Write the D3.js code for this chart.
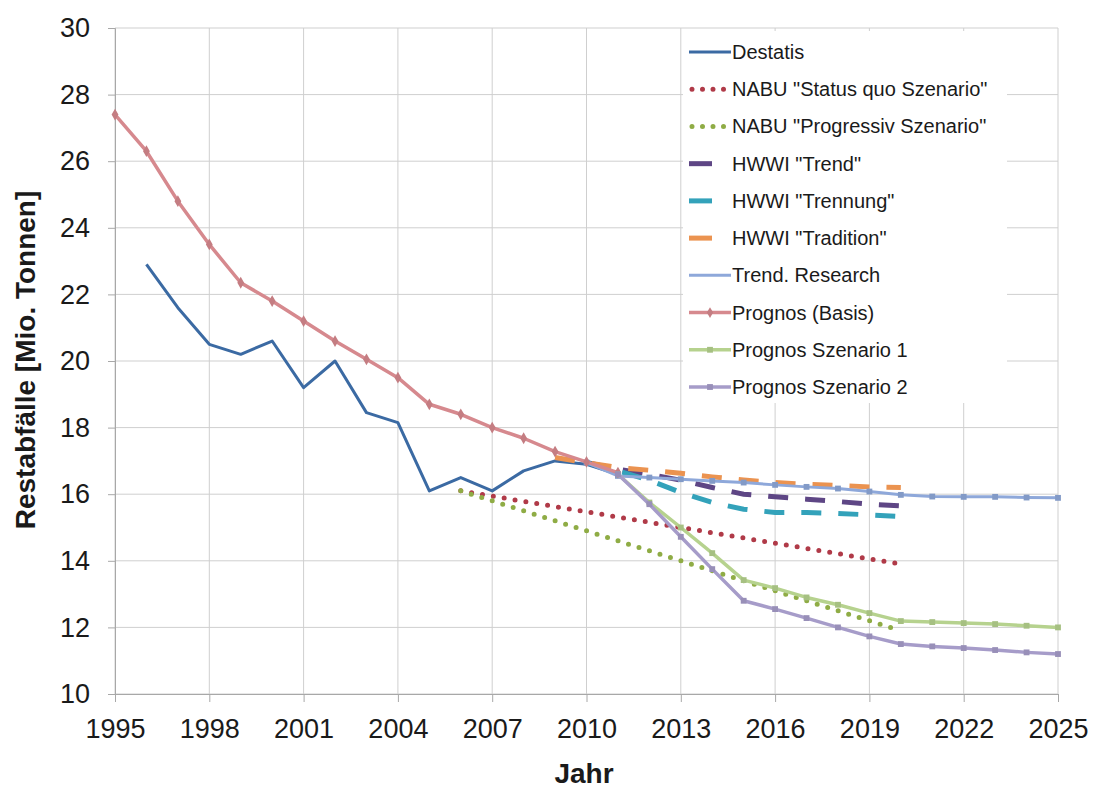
<!DOCTYPE html>
<html>
<head>
<meta charset="utf-8">
<script src="https://cdn.jsdelivr.net/npm/d3@7"></script>
<style>
  body { margin: 0; background: #fff; }
  text { font-family: "Liberation Sans", Arial, sans-serif; fill: #1a1a1a; }
</style>
</head>
<body>
<svg id="chart" width="1094" height="789"></svg>
<script>
// ---------- data ----------
const yearTicks = [1995, 1998, 2001, 2004, 2007, 2010, 2013, 2016, 2019, 2022, 2025];
const valueTicks = [10, 12, 14, 16, 18, 20, 22, 24, 26, 28, 30];

const destatisYears = [1996, 1997, 1998, 1999, 2000, 2001, 2002, 2003, 2004, 2005, 2006, 2007, 2008, 2009, 2010, 2011];
const destatisValues = [22.9, 21.6, 20.5, 20.2, 20.6, 19.2, 20.0, 18.45, 18.15, 16.1, 16.5, 16.1, 16.7, 17.0, 16.9, 16.6];

const nabuStatusYears = [2006, 2020];
const nabuStatusValues = [16.1, 13.9];

const nabuProgYears = [2006, 2020];
const nabuProgValues = [16.1, 11.9];

const hwwiYears = [2010, 2011, 2012, 2013, 2014, 2015, 2016, 2017, 2018, 2019, 2020];
const hwwiTrendValues = [16.95, 16.75, 16.6, 16.42, 16.2, 16.0, 15.92, 15.85, 15.78, 15.7, 15.65];
const hwwiTrennungValues = [16.95, 16.7, 16.42, 16.05, 15.75, 15.55, 15.45, 15.45, 15.42, 15.38, 15.33];

const hwwiTraditionYears = [2009, 2010, 2011, 2012, 2013, 2014, 2015, 2016, 2017, 2018, 2019, 2020];
const hwwiTraditionValues = [17.1, 16.95, 16.8, 16.72, 16.63, 16.52, 16.43, 16.35, 16.3, 16.26, 16.22, 16.2];

const trendResearchYears = [2010, 2011, 2012, 2013, 2014, 2015, 2016, 2017, 2018, 2019, 2020, 2021, 2022, 2023, 2024, 2025];
const trendResearchValues = [16.95, 16.55, 16.5, 16.45, 16.4, 16.35, 16.28, 16.22, 16.17, 16.08, 15.98, 15.93, 15.92, 15.92, 15.9, 15.89];

const prognosBasisYears = [1995, 1996, 1997, 1998, 1999, 2000, 2001, 2002, 2003, 2004, 2005, 2006, 2007, 2008, 2009, 2010, 2011];
const prognosBasisValues = [27.4, 26.3, 24.8, 23.5, 22.35, 21.8, 21.2, 20.6, 20.05, 19.5, 18.7, 18.4, 18.0, 17.68, 17.28, 16.97, 16.65];

const prognosSzYears = [2011, 2012, 2013, 2014, 2015, 2016, 2017, 2018, 2019, 2020, 2021, 2022, 2023, 2024, 2025];
const prognosSz1Values = [16.6, 15.75, 15.0, 14.23, 13.42, 13.18, 12.9, 12.68, 12.43, 12.19, 12.16, 12.13, 12.1, 12.05, 12.0];
const prognosSz2Values = [16.6, 15.7, 14.72, 13.75, 12.8, 12.55, 12.28, 12.0, 11.73, 11.5, 11.43, 11.38, 11.32, 11.25, 11.2];

const seriesNames = [
  'Destatis',
  'NABU "Status quo Szenario"',
  'NABU "Progressiv Szenario"',
  'HWWI "Trend"',
  'HWWI "Trennung"',
  'HWWI "Tradition"',
  'Trend. Research',
  'Prognos (Basis)',
  'Prognos Szenario 1',
  'Prognos Szenario 2'
];

// ---------- styles ----------
const zip = (xs, ys) => xs.map((v, i) => ({ x: v, y: ys[i] }));
const series = [
  { name: seriesNames[0], data: zip(destatisYears, destatisValues), color: '#3b6aa3', kind: 'solid', width: 3 },
  { name: seriesNames[1], data: zip(nabuStatusYears, nabuStatusValues), color: '#b03a48', kind: 'dot' },
  { name: seriesNames[2], data: zip(nabuProgYears, nabuProgValues), color: '#8fac45', kind: 'dot' },
  { name: seriesNames[3], data: zip(hwwiYears, hwwiTrendValues), color: '#5e4685', kind: 'dash' },
  { name: seriesNames[4], data: zip(hwwiYears, hwwiTrennungValues), color: '#33a2ba', kind: 'dash' },
  { name: seriesNames[5], data: zip(hwwiTraditionYears, hwwiTraditionValues), color: '#eb9350', kind: 'dash' },
  { name: seriesNames[6], data: zip(trendResearchYears, trendResearchValues), color: '#8ea8da', kind: 'solid', width: 3, marker: 'sq', legendMarker: false },
  { name: seriesNames[7], data: zip(prognosBasisYears, prognosBasisValues), color: '#d6898e', kind: 'solid', width: 3.5, marker: 'dia' },
  { name: seriesNames[8], data: zip(prognosSzYears, prognosSz1Values), color: '#b6d28e', kind: 'solid', width: 3.5, marker: 'sq' },
  { name: seriesNames[9], data: zip(prognosSzYears, prognosSz2Values), color: '#a69cc9', kind: 'solid', width: 3.5, marker: 'sq' }
];

// ---------- layout ----------
const svg = d3.select('#chart');
const mLeft = 115, mRight = 1058, mTop = 28, mBottom = 694;
const x = d3.scaleLinear().domain([1995, 2025]).range([mLeft, mRight]);
const y = d3.scaleLinear().domain([10, 30]).range([mBottom, mTop]);

// grid
const grid = svg.append('g');
grid.selectAll('line.h').data(valueTicks).join('line').attr('class', 'h')
  .attr('x1', mLeft).attr('x2', mRight)
  .attr('y1', d => y(d)).attr('y2', d => y(d))
  .attr('stroke', '#cfcfcf').attr('stroke-width', 1);
grid.selectAll('line.v').data(yearTicks).join('line').attr('class', 'v')
  .attr('x1', d => x(d)).attr('x2', d => x(d))
  .attr('y1', mTop).attr('y2', mBottom)
  .attr('stroke', '#cfcfcf').attr('stroke-width', 1);

// axes
const yAxis = svg.append('g').attr('transform', `translate(${mLeft},0)`)
  .call(d3.axisLeft(y).tickValues(valueTicks).tickSize(7).tickPadding(18).tickFormat(d3.format('d')));
const xAxis = svg.append('g').attr('transform', `translate(0,${mBottom})`)
  .call(d3.axisBottom(x).tickValues(yearTicks).tickSize(8).tickPadding(17).tickFormat(d3.format('d')));
[yAxis, xAxis].forEach(a => {
  a.select('.domain').attr('stroke', '#a8a8a8');
  a.selectAll('.tick line').attr('stroke', '#a8a8a8');
  a.selectAll('.tick text').style('font-size', '27px').attr('fill', '#1a1a1a')
    .style('font-family', '"Liberation Sans", Arial, sans-serif');
});

// axis titles
svg.append('text')
  .attr('transform', 'translate(35,360) rotate(-90)')
  .attr('text-anchor', 'middle')
  .style('font-size', '28px').style('font-weight', 'bold')
  .text('Restabfälle [Mio. Tonnen]');
svg.append('text')
  .attr('x', 584).attr('y', 783)
  .attr('text-anchor', 'middle')
  .style('font-size', '28px').style('font-weight', 'bold')
  .text('Jahr');

// lines
const line = d3.line().x(d => x(d.x)).y(d => y(d.y));
function applyStroke(sel, s) {
  sel.attr('fill', 'none').attr('stroke', s.color);
  if (s.kind === 'dot') {
    sel.attr('stroke-width', 5).attr('stroke-dasharray', '0 11').attr('stroke-linecap', 'round');
  } else if (s.kind === 'dash') {
    sel.attr('stroke-width', 5).attr('stroke-dasharray', '20 17').attr('stroke-linecap', 'butt');
  } else {
    sel.attr('stroke-width', s.width).attr('stroke-linejoin', 'round');
  }
  return sel;
}
const linesG = svg.append('g');
series.forEach(s => {
  applyStroke(linesG.append('path').datum(s.data).attr('d', line), s);
  if (s.marker) {
    const sym = d3.symbol().type(s.marker === 'dia' ? d3.symbolDiamond : d3.symbolSquare).size(s.marker === 'dia' ? 40 : 34);
    linesG.append('g').selectAll('path').data(s.data).join('path')
      .attr('transform', d => `translate(${x(d.x)},${y(d.y)})`)
      .attr('d', sym)
      .attr('fill', d3.color(s.color).darker(0.25))
      .attr('stroke', 'none');
  }
});

// legend
const lg = svg.append('g');
lg.append('rect').attr('x', 683).attr('y', 31).attr('width', 324).attr('height', 372).attr('fill', '#fff');
const rowY = d3.scaleLinear().domain([0, 9]).range([52, 387]);
series.forEach((s, i) => {
  const cy = rowY(i);
  const x1 = 689, x2 = s.kind === 'dash' ? 712 : 731;
  const seg = lg.append('line').attr('x1', x1).attr('x2', x2).attr('y1', cy).attr('y2', cy);
  applyStroke(seg, s);
  if (s.kind === 'dash') seg.attr('stroke-dasharray', null);
  if (s.kind === 'dot') seg.attr('stroke-dasharray', '0 10.5').attr('x1', 692).attr('x2', 728);
  if (s.marker && s.legendMarker !== false) {
    lg.append('path')
      .attr('transform', `translate(${(x1 + x2) / 2},${cy})`)
      .attr('d', d3.symbol().type(s.marker === 'dia' ? d3.symbolDiamond : d3.symbolSquare).size(34)())
      .attr('fill', d3.color(s.color).darker(0.25));
  }
  lg.append('text').attr('x', 732).attr('y', cy).attr('dy', '0.35em')
    .style('font-size', '20px').text(s.name);
});
</script>
</body>
</html>
